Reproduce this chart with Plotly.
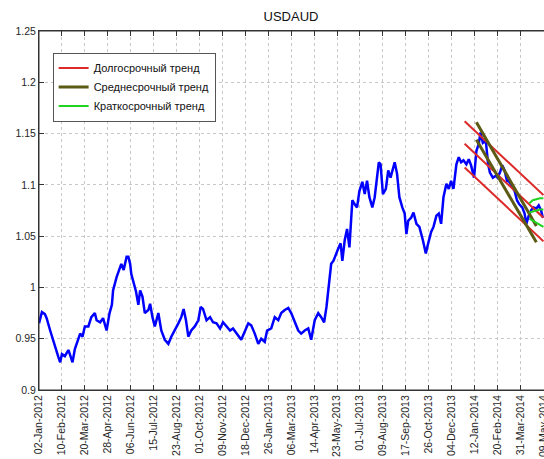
import pandas as pd
import plotly.graph_objects as go

start = pd.Timestamp("2012-01-02")

# USDAUD, day offsets from 02-Jan-2012 and rate
day = [0, 5, 10, 13, 19, 22, 27, 33, 36, 39, 44, 50, 53, 57, 61, 64, 70, 74, 78, 84,
       89, 95, 98, 104, 109, 115, 120, 124, 126, 132, 137, 140, 144, 149, 152, 155, 157, 160, 165, 169,
       172, 176, 180, 186, 189, 193, 197, 203, 208, 214, 220, 225, 231, 237, 242, 246, 250, 254, 259, 265,
       271, 275, 279, 285, 291, 296, 302, 308, 313, 319, 325, 330, 336, 344, 350, 356, 361, 367, 373, 378,
       384, 388, 395, 401, 407, 412, 418, 424,
       429, 435, 441, 446, 452, 458, 463, 469, 475, 480, 485, 489, 493, 497, 501, 505, 509, 513, 516, 520,
       524, 528, 533, 537, 541, 545, 550, 554, 558, 562, 567, 571, 575, 578, 581, 585, 590, 594, 598, 602,
       605, 609, 613, 618, 622, 625, 628, 633, 637, 642, 647, 653, 658, 662, 667, 671, 676, 680, 684, 688,
       693, 697, 701, 705, 710, 714, 718, 722, 727, 731, 735, 740, 744, 748, 751, 755, 760, 764, 767, 772,
       777, 780, 784, 788, 792, 796, 800, 804, 809, 813, 817, 822, 826, 829, 833, 837, 841, 846, 850, 854, 857]
rate = [0.965, 0.976, 0.974, 0.970, 0.958, 0.952, 0.942, 0.932, 0.927, 0.935, 0.933, 0.939, 0.934, 0.927, 0.940, 0.945, 0.955, 0.952, 0.962, 0.962,
        0.971, 0.975, 0.968, 0.966, 0.970, 0.958, 0.975, 0.983, 0.997, 1.010, 1.017, 1.023, 1.017, 1.030, 1.030, 1.023, 1.013, 1.007, 0.996, 0.983,
        0.997, 0.991, 0.975, 0.978, 0.984, 0.971, 0.962, 0.975, 0.958, 0.949, 0.945, 0.952, 0.958, 0.965, 0.971, 0.979, 0.968, 0.952, 0.958, 0.962,
        0.968, 0.981, 0.979, 0.968, 0.971, 0.966, 0.965, 0.960, 0.966, 0.962, 0.958, 0.960, 0.955, 0.949, 0.957, 0.965, 0.963, 0.955, 0.945, 0.950,
        0.947, 0.958, 0.960, 0.971, 0.968, 0.975, 0.978, 0.980,
        0.975, 0.966, 0.958, 0.955, 0.958, 0.960, 0.949, 0.968, 0.975, 0.971, 0.966, 0.981, 1.000, 1.023, 1.026, 1.033, 1.038, 1.043, 1.026, 1.046,
        1.057, 1.039, 1.085, 1.081, 1.078, 1.094, 1.103, 1.091, 1.104, 1.088, 1.078, 1.088, 1.107, 1.122, 1.120, 1.091, 1.096, 1.114, 1.107, 1.117,
        1.122, 1.111, 1.088, 1.078, 1.072, 1.052, 1.065, 1.068, 1.073, 1.062, 1.059, 1.046, 1.033, 1.043, 1.054, 1.059, 1.070, 1.072, 1.062, 1.088,
        1.101, 1.096, 1.104, 1.096, 1.120, 1.127, 1.122, 1.124, 1.120, 1.125, 1.119, 1.107, 1.133, 1.140, 1.151, 1.141, 1.143, 1.120, 1.112, 1.107,
        1.109, 1.107, 1.112, 1.119, 1.114, 1.104, 1.103, 1.099, 1.094, 1.085, 1.081, 1.078, 1.072, 1.062, 1.070, 1.075, 1.078, 1.077, 1.080, 1.075, 1.068]

# trend channels
long_days = [724, 858]
long_upper = [1.162, 1.090]
long_mid = [1.140, 1.068]
long_lower = [1.117, 1.045]

mid_days = [744, 846]
mid_upper = [1.161, 1.060]
mid_lower = [1.144, 1.044]

short_days = [834, 840, 846, 852, 858]
short_upper = [1.082, 1.085, 1.086, 1.087, 1.087]
short_mid = [1.073, 1.074, 1.075, 1.076, 1.076]
short_lower = [1.067, 1.065, 1.063, 1.061, 1.059]

xtick_labels = ["02-Jan-2012", "10-Feb-2012", "20-Mar-2012", "28-Apr-2012", "06-Jun-2012", "15-Jul-2012",
                "23-Aug-2012", "01-Oct-2012", "09-Nov-2012", "18-Dec-2012", "26-Jan-2013", "06-Mar-2013",
                "14-Apr-2013", "23-May-2013", "01-Jul-2013", "09-Aug-2013", "17-Sep-2013", "26-Oct-2013",
                "04-Dec-2013", "12-Jan-2014", "20-Feb-2014", "31-Mar-2014", "09-May-2014"]
ytick_vals = [0.9, 0.95, 1.0, 1.05, 1.1, 1.15, 1.2, 1.25]
ytick_labels = ["0.9", "0.95", "1", "1.05", "1.1", "1.15", "1.2", "1.25"]


def to_dates(offsets):
    return start + pd.to_timedelta(offsets, unit="D")


fig = go.Figure()

fig.add_trace(go.Scatter(x=to_dates(day), y=rate, mode="lines",
                         line=dict(color="#0000ff", width=2.5), showlegend=False))

trends = [
    ("Долгосрочный тренд", "#dc2a2a", 2, long_days, [long_upper, long_mid, long_lower]),
    ("Среднесрочный тренд", "#5c5a14", 3, mid_days, [mid_upper, mid_lower]),
    ("Краткосрочный тренд", "#21d321", 2, short_days, [short_upper, short_mid, short_lower]),
]
for name, color, w, dd, lines in trends:
    for i, vals in enumerate(lines):
        fig.add_trace(go.Scatter(x=to_dates(dd), y=vals, mode="lines", name=name,
                                 legendgroup=name, showlegend=(i == 0),
                                 line=dict(color=color, width=w)))

# frame: left + bottom + top, right side falls off the canvas
fig.add_shape(type="rect", xref="paper", yref="paper", x0=0, x1=1.05, y0=0, y1=1,
              line=dict(color="#333333", width=1), layer="above")

fig.update_layout(
    width=544, height=459,
    margin=dict(l=39, r=0, t=31, b=69),
    paper_bgcolor="white", plot_bgcolor="white",
    font=dict(family="Liberation Sans, Arial, sans-serif", size=10.5, color="#262626"),
    title=dict(text="USDAUD", x=(291 / 544), xanchor="center", y=1 - 16 / 459, yanchor="middle",
               font=dict(size=13, color="#111111")),
    legend=dict(x=0.027, y=0.94, xanchor="left", yanchor="top",
                bgcolor="white", bordercolor="#555555", borderwidth=1,
                font=dict(size=11, color="#111111"), tracegroupgap=0),
    xaxis=dict(range=[start, pd.Timestamp("2014-05-10")], automargin=False,
               tickvals=pd.to_datetime(xtick_labels, format="%d-%b-%Y"), ticktext=xtick_labels,
               tickangle=-90, ticks="inside", ticklen=5, tickcolor="#333333", ticklabeloverflow="allow",
               showline=True, linecolor="#333333", mirror="ticks",
               showgrid=True, gridcolor="#c8c8c8", griddash="dot", gridwidth=1, zeroline=False),
    yaxis=dict(range=[0.9, 1.25], automargin=False, tickvals=ytick_vals, ticktext=ytick_labels,
               ticks="inside", ticklen=5, tickcolor="#333333",
               showline=True, linecolor="#333333",
               showgrid=True, gridcolor="#c8c8c8", griddash="dot", gridwidth=1, zeroline=False),
)

# the page body has a default 8px margin; drop it so the figure sits at the window corner
fig.write_html("out.html", config={"displayModeBar": False},
               post_script="document.body.style.margin='0px';")
